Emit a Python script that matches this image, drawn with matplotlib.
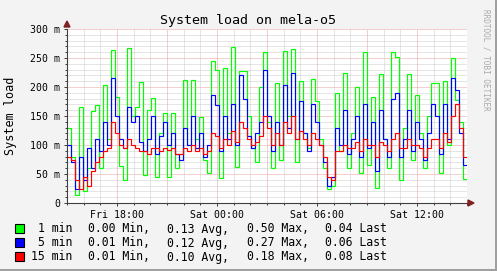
import matplotlib
matplotlib.use('Agg')
import matplotlib.pyplot as plt
from matplotlib.patches import Rectangle, Polygon
import numpy as np

W, H = 497, 271

# load averages in milli units, one value per 14.4 min starting Fri 15:00
load_1 = [130, 80, 14, 165, 20, 60, 159, 169, 60, 203,
          110, 263, 183, 63, 40, 267, 150, 166, 209, 48,
          160, 181, 45, 120, 155, 45, 155, 60, 85, 212,
          100, 212, 110, 149, 75, 52, 245, 229, 43, 232,
          120, 269, 62, 228, 228, 150, 95, 71, 200, 261,
          140, 60, 207, 75, 262, 150, 266, 70, 210, 120,
          95, 213, 175, 110, 60, 25, 30, 190, 90, 224,
          60, 120, 200, 52, 261, 65, 183, 26, 222, 110,
          60, 261, 252, 40, 130, 222, 75, 186, 120, 60,
          150, 207, 207, 52, 210, 100, 250, 177, 140, 42]
load_5 = [100, 70, 25, 80, 40, 95, 60, 110, 90, 140,
          100, 215, 150, 110, 95, 165, 140, 150, 105, 90,
          110, 150, 85, 115, 140, 100, 120, 85, 75, 130,
          100, 150, 95, 120, 80, 100, 186, 169, 90, 150,
          110, 170, 100, 221, 180, 115, 95, 120, 140, 229,
          150, 90, 140, 100, 203, 130, 224, 110, 175, 120,
          90, 170, 140, 100, 70, 30, 45, 130, 100, 160,
          85, 110, 150, 80, 170, 95, 140, 55, 160, 110,
          80, 180, 190, 80, 110, 160, 90, 140, 110, 75,
          120, 170, 150, 85, 170, 110, 215, 195, 120, 65]
load_15 = [80, 75, 40, 25, 45, 30, 55, 70, 80, 90,
           95, 140, 120, 100, 95, 110, 100, 95, 90, 90,
           85, 95, 95, 90, 95, 92, 95, 85, 85, 95,
           90, 100, 90, 95, 85, 90, 120, 115, 95, 110,
           100, 125, 105, 140, 130, 110, 100, 105, 115, 150,
           130, 100, 120, 100, 140, 120, 150, 110, 125, 110,
           100, 120, 110, 100, 80, 45, 40, 90, 90, 100,
           95, 95, 105, 90, 110, 100, 100, 80, 105, 100,
           90, 110, 120, 95, 95, 110, 100, 100, 95, 80,
           95, 110, 110, 95, 120, 105, 150, 170, 130, 80]

names = ['1 min', '5 min', '15 min']
colors = ['#00ff00', '#0000ff', '#ff0000']
stat_min = [0.00, 0.01, 0.01]
stat_avg = [0.13, 0.12, 0.10]
stat_max = [0.50, 0.27, 0.18]
stat_last = [0.04, 0.06, 0.08]

tick_hours = [3, 9, 15, 21]
tick_labels = ['Fri 18:00', 'Sat 00:00', 'Sat 06:00', 'Sat 12:00']
y_ticks = [0, 50, 100, 150, 200, 250, 300]
y_labels = ['0', '50 m', '100 m', '150 m', '200 m', '250 m', '300 m']

mono = 'DejaVu Sans Mono'
axis_col = '#404040'
arrow_col = '#802020'

def fx(px):
    return px / W

def fy(py):
    return 1 - py / H

fig = plt.figure(figsize=(W / 100, H / 100), dpi=100, facecolor='#f3f3f3')
ax = fig.add_axes([fx(67), fy(203), 400 / W, 174 / H], facecolor='white')

# grid
for v in range(10, 301, 10):
    c = '#e8a0a0' if v % 50 == 0 else '#cccccc'
    ax.axhline(v, color=c, lw=0.72, ls=(0, (1, 1)), zorder=0.5)
for h in range(1, 25):
    c = '#e8a0a0' if h % 3 == 0 else '#cccccc'
    ax.axvline(h, color=c, lw=0.72, ls=(0, (1, 1)), zorder=0.5)

edges = np.linspace(0, 24, len(load_1) + 1)
for vals, c in zip([load_1, load_5, load_15], colors):
    ax.stairs(vals, edges, baseline=None, color=c, lw=0.85, zorder=2)

ax.set_xlim(0, 24)
ax.set_ylim(0, 300)
for s in ['top', 'right']:
    ax.spines[s].set_visible(False)
for s in ['left', 'bottom']:
    ax.spines[s].set_color(axis_col)
    ax.spines[s].set_linewidth(0.8)

ax.set_xticks(tick_hours)
ax.set_xticklabels(tick_labels, fontsize=7.1, family=mono)
ax.set_xticks(range(0, 25), minor=True)
ax.set_yticks(y_ticks)
ax.set_yticklabels(y_labels, fontsize=7.1, family=mono)
ax.set_yticks(range(0, 301, 10), minor=True)
ax.tick_params(which='both', direction='out', color=axis_col, width=0.72)
ax.tick_params(which='major', length=2.2, pad=2.5)
ax.tick_params(which='minor', length=1.5)

# axis arrows
fig.add_artist(Polygon([[fx(64), fy(27)], [fx(70), fy(27)], [fx(67), fy(21)]],
                       closed=True, transform=fig.transFigure, color=arrow_col))
fig.add_artist(Polygon([[fx(468), fy(200)], [fx(468), fy(206)], [fx(474), fy(203)]],
                       closed=True, transform=fig.transFigure, color=arrow_col))

fig.text(fx(248), fy(24), 'System load on mela-o5', ha='center', va='baseline',
         fontsize=9.6, family=mono)
fig.text(fx(11), fy(116), 'System load', rotation=90, ha='center', va='center',
         fontsize=8.5, family=mono)
fig.text(fx(486), fy(60), 'RRDTOOL / TOBI OETIKER', rotation=270, ha='center',
         va='center', fontsize=5.5, family=mono, color='#aaaaaa')

# legend
row_y = [232.5, 246.5, 260.5]
for i in range(3):
    y = row_y[i]
    fig.add_artist(Rectangle((fx(15), fy(y + 0.5)), 9 / W, 9 / H, transform=fig.transFigure,
                             facecolor=colors[i], edgecolor='black', lw=0.8))
    fig.text(fx(72), fy(y), names[i], ha='right', va='baseline', fontsize=8.3, family=mono)
    fig.text(fx(88), fy(y), '%.2f Min,' % stat_min[i], va='baseline', fontsize=8.3, family=mono)
    fig.text(fx(167), fy(y), '%.2f Avg,' % stat_avg[i], va='baseline', fontsize=8.3, family=mono)
    fig.text(fx(247), fy(y), '%.2f Max,' % stat_max[i], va='baseline', fontsize=8.3, family=mono)
    fig.text(fx(325), fy(y), '%.2f Last' % stat_last[i], va='baseline', fontsize=8.3, family=mono)

# frame shading
fig.add_artist(Rectangle((fx(495), 0), 2 / W, 1, transform=fig.transFigure,
                         facecolor='#a0a0a0', lw=0))
fig.add_artist(Rectangle((0, 0), 1, 2 / H, transform=fig.transFigure,
                         facecolor='#a0a0a0', lw=0))

fig.savefig('out.png', dpi=100, facecolor=fig.get_facecolor())
